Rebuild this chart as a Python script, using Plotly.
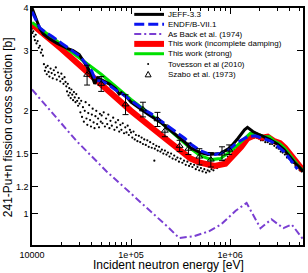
import plotly.graph_objects as go
import numpy as np

# ---------------- data (energy in eV, cross section in b) ----------------
jeff_E = [1.0e4, 1.1e4, 1.2e4, 1.3e4, 1.5e4, 1.8e4, 2.0e4, 2.3e4, 2.6e4, 3.0e4, 3.3e4, 3.6e4,
          4.0e4, 4.3e4, 4.6e4, 5.0e4, 6.0e4, 7.0e4, 7.6e4, 8.0e4, 9.0e4, 1.0e5, 1.2e5, 1.5e5,
          2.0e5, 2.5e5, 3.0e5, 3.5e5, 4.0e5, 5.0e5, 6.0e5, 8.0e5, 1.0e6, 1.2e6, 1.4e6, 1.5e6,
          1.7e6, 2.0e6, 2.5e6, 3.0e6, 3.5e6, 4.0e6, 4.5e6, 5.0e6, 5.46e6]
jeff_s = [4.0, 3.70, 3.48, 3.36, 3.25, 3.15, 3.10, 3.04, 3.00, 2.92, 2.80, 2.70,
          2.55, 2.40, 2.50, 2.47, 2.40, 2.32, 2.24, 2.26, 2.20, 2.12, 2.04, 1.95,
          1.85, 1.76, 1.68, 1.62, 1.56, 1.51, 1.49, 1.50, 1.56, 1.66, 1.76, 1.79,
          1.74, 1.70, 1.65, 1.60, 1.54, 1.47, 1.41, 1.37, 1.33]

endf_E = [1.0e4, 1.2e4, 1.4e4, 1.6e4, 2.0e4, 2.5e4, 3.0e4, 3.5e4, 4.0e4, 4.4e4, 5.0e4, 6.0e4,
          7.0e4, 8.0e4, 1.0e5, 1.3e5, 1.6e5, 2.0e5, 2.5e5, 3.0e5, 3.5e5, 4.0e5, 5.0e5, 6.0e5,
          7.0e5, 8.0e5, 1.0e6, 1.2e6, 1.5e6, 1.8e6, 2.2e6, 2.6e6, 3.0e6, 3.5e6, 4.0e6, 4.5e6, 4.8e6]
endf_s = [3.90, 3.50, 3.38, 3.30, 3.15, 3.02, 2.90, 2.75, 2.62, 2.45, 2.45, 2.38,
          2.30, 2.25, 2.14, 2.03, 1.96, 1.87, 1.79, 1.72, 1.66, 1.60, 1.53, 1.50,
          1.49, 1.50, 1.55, 1.62, 1.68, 1.69, 1.66, 1.63, 1.58, 1.52, 1.45, 1.38, 1.35]

back_E = [1.0e4, 2.83e4, 5.67e4, 1.64e5, 2.43e5, 3.06e5, 4.36e5, 6.1e5, 8.1e5, 1.14e6,
          1.47e6, 2.03e6, 2.62e6, 3.46e6, 4.2e6, 5.5e6]
back_s = [2.31, 1.63, 1.33, 1.01, 0.907, 0.849, 0.86, 0.888, 0.93, 1.02,
          1.075, 0.907, 0.963, 0.907, 0.93, 0.84]

red_E = [1.0e4, 2.0e4, 5.0e4, 1.0e5, 2.0e5, 3.0e5, 4.0e5, 5.0e5, 7.0e5, 9.0e5, 1.1e6,
         1.3e6, 1.5e6, 1.8e6, 2.1e6, 2.4e6, 2.8e6, 3.2e6, 3.6e6, 4.0e6, 4.5e6, 5.0e6, 5.46e6]
red_s = [3.58, 3.03, 2.39, 2.00, 1.70, 1.54, 1.45, 1.41, 1.38, 1.40, 1.48,
         1.57, 1.66, 1.70, 1.67, 1.68, 1.63, 1.61, 1.56, 1.50, 1.43, 1.38, 1.34]

green_E = [1.0e4, 2.0e4, 5.0e4, 1.0e5, 2.0e5, 3.0e5, 4.0e5, 5.0e5, 6.5e5, 8.0e5, 1.0e6,
           1.2e6, 1.4e6, 1.6e6, 1.9e6, 2.2e6, 2.5e6, 2.8e6, 3.2e6, 3.6e6, 4.0e6, 4.5e6, 5.0e6, 5.46e6]
green_s = [3.63, 3.13, 2.56, 2.16, 1.85, 1.67, 1.55, 1.48, 1.44, 1.45, 1.52,
           1.59, 1.66, 1.72, 1.71, 1.68, 1.68, 1.63, 1.60, 1.55, 1.49, 1.42, 1.37, 1.34]

tov_E = [1.00e4, 1.01e4, 1.03e4, 1.05e4, 1.07e4, 1.09e4, 1.11e4, 1.14e4, 1.17e4, 1.20e4, 1.23e4, 1.26e4, 1.29e4,
         1.32e4, 1.35e4, 1.38e4, 1.41e4, 1.44e4, 1.47e4, 1.50e4, 1.54e4, 1.58e4, 1.62e4, 1.66e4, 1.70e4,
         1.74e4, 1.78e4, 1.83e4, 1.88e4, 1.93e4, 1.98e4, 2.03e4, 2.08e4, 2.13e4, 2.18e4,
         2.22e4, 2.26e4, 2.30e4, 2.34e4, 2.38e4, 2.42e4, 2.46e4, 2.50e4, 2.55e4, 2.60e4, 2.65e4, 2.70e4,
         2.75e4, 2.80e4, 2.86e4, 2.92e4, 2.97e4,
         3.02e4, 3.08e4, 3.14e4, 3.20e4, 3.27e4, 3.34e4, 3.41e4, 3.48e4, 3.55e4, 3.62e4, 3.70e4, 3.78e4,
         3.86e4, 3.94e4, 4.02e4, 4.10e4, 4.19e4, 4.28e4, 4.37e4, 4.46e4, 4.55e4, 4.65e4, 4.75e4, 4.85e4, 4.95e4,
         5.05e4, 5.15e4, 5.30e4, 5.45e4, 5.60e4, 5.75e4, 5.90e4, 6.05e4, 6.20e4, 6.40e4, 6.60e4, 6.80e4,
         7.00e4, 7.20e4, 7.40e4, 7.60e4, 7.80e4, 8.00e4, 8.25e4, 8.50e4, 8.75e4, 9.00e4, 9.25e4, 9.50e4, 9.75e4,
         1.00e5, 1.03e5, 1.06e5, 1.09e5, 1.12e5, 1.16e5, 1.20e5, 1.24e5, 1.28e5, 1.32e5, 1.36e5, 1.41e5,
         1.46e5, 1.51e5, 1.56e5, 1.62e5, 1.68e5, 1.72e5, 1.74e5, 1.80e5, 1.86e5, 1.92e5, 1.98e5,
         2.05e5, 2.12e5, 2.20e5, 2.28e5, 2.36e5, 2.45e5, 2.54e5, 2.63e5, 2.73e5, 2.83e5, 2.94e5, 3.05e5,
         3.17e5, 3.30e5, 3.43e5, 3.57e5, 3.71e5, 3.86e5, 4.01e5, 4.17e5, 4.34e5, 4.51e5, 4.69e5, 4.88e5,
         5.08e5, 5.28e5, 5.50e5, 5.72e5, 5.95e5,
         6.2e5, 6.5e5, 6.8e5, 7.1e5, 7.4e5, 7.8e5, 8.2e5, 8.6e5, 9.0e5, 9.5e5, 1.0e6, 1.05e6, 1.10e6,
         1.16e6, 1.22e6, 1.28e6, 1.35e6, 1.42e6, 1.50e6,
         1.58e6, 1.66e6, 1.75e6, 1.85e6, 1.95e6, 2.05e6, 2.15e6, 2.27e6, 2.40e6, 2.53e6, 2.66e6, 2.80e6,
         2.95e6, 3.10e6, 3.25e6, 3.40e6, 3.58e6, 3.76e6, 3.95e6, 4.15e6, 4.36e6, 4.58e6, 4.80e6, 5.05e6, 5.30e6]
tov_s = [3.48, 3.38, 3.42, 3.30, 3.22, 3.34, 3.15, 3.20, 3.06, 3.10, 2.96, 3.02, 2.90,
         2.74, 2.62, 2.68, 2.56, 2.71, 2.60, 2.52, 2.66, 2.58, 2.49, 2.63, 2.55,
         2.68, 2.47, 2.59, 2.52, 2.44, 2.57, 2.48, 2.40, 2.51, 2.43,
         2.36, 2.28, 2.40, 2.22, 2.33, 2.26, 2.18, 2.31, 2.23, 2.15, 2.27, 2.19,
         2.12, 2.24, 2.14, 2.07, 2.18,
         2.10, 1.98, 2.14, 1.92, 2.05, 1.86, 2.00, 2.12, 1.90, 1.82, 1.97, 2.08,
         1.88, 1.80, 1.95, 2.03, 1.85, 1.78, 1.93, 2.00, 1.83, 1.90, 1.79, 1.96, 1.86,
         1.94, 1.84, 1.98, 1.80, 1.90, 1.83, 1.95, 1.78, 1.87, 1.81, 1.91, 1.76,
         1.85, 1.79, 1.88, 1.74, 1.82, 1.76, 1.84, 1.72, 1.79, 1.73, 1.81, 1.70, 1.76,
         1.73, 1.67, 1.74, 1.65, 1.70, 1.63, 1.69, 1.62, 1.67, 1.60, 1.65, 1.59,
         1.64, 1.57, 1.62, 1.56, 1.60, 1.43, 1.55, 1.58, 1.53, 1.57, 1.52,
         1.54, 1.50, 1.53, 1.49, 1.51, 1.47, 1.50, 1.45, 1.48, 1.44, 1.46, 1.42,
         1.45, 1.41, 1.43, 1.39, 1.42, 1.38, 1.40, 1.37, 1.39, 1.35, 1.37, 1.34,
         1.36, 1.33, 1.35, 1.32, 1.34,
         1.33, 1.35, 1.34, 1.37, 1.36, 1.39, 1.40, 1.43, 1.44, 1.47, 1.49, 1.52, 1.54,
         1.57, 1.59, 1.61, 1.63, 1.64, 1.66,
         1.68, 1.69, 1.67, 1.67, 1.66, 1.64, 1.64, 1.62, 1.62, 1.60, 1.60, 1.58,
         1.56, 1.55, 1.52, 1.51, 1.49, 1.46, 1.45, 1.42, 1.41, 1.38, 1.37, 1.34, 1.33]

szabo_E = [3.6e4, 5.0e4, 8.8e4, 1.32e5, 1.85e5, 2.2e5, 3.1e5, 3.8e5, 4.9e5, 6.4e5, 8.3e5, 9.8e5]
szabo_s = [2.55, 2.40, 2.09, 2.02, 1.89, 1.75, 1.58, 1.55, 1.47, 1.44, 1.50, 1.54]
szabo_err = [0.17, 0.12, 0.14, 0.10, 0.09, 0.07, 0.06, 0.06, 0.08, 0.07, 0.07, 0.05]

x_tickvals = [1e4, 1e5, 1e6]
x_ticktext = ["10000", "1e+05", "1e+06"]
x_minor = [2e4, 3e4, 4e4, 5e4, 6e4, 7e4, 8e4, 9e4,
           2e5, 3e5, 4e5, 5e5, 6e5, 7e5, 8e5, 9e5,
           2e6, 3e6, 4e6, 5e6]
y_tickvals = [1, 1.2, 1.5, 2, 3, 4]
y_ticktext = ["1", "1.2", "1.5", "2", "3", "4"]

legend_names = ["JEFF-3.3", "ENDF/B-VII.1", "As Back et al. (1974)",
                "This work (incomplete damping)", "This work (strong)",
                "Tovesson et al (2010)", "Szabo et al. (1973)"]

# ---------------- styles ----------------
C_JEFF = "black"
C_ENDF = "#0a14f0"
C_BACK = "#7a3fd2"
C_RED = "#ff0000"
C_GREEN = "#00e000"
FONT = "Liberation Sans, Arial, Helvetica, sans-serif"

fig = go.Figure()
fig.add_trace(go.Scatter(x=back_E, y=back_s, mode="lines",
                         line=dict(color=C_BACK, width=2, dash="7px,3px,2px,3px")))
fig.add_trace(go.Scatter(x=tov_E, y=tov_s, mode="markers",
                         marker=dict(color="black", size=2.2)))
fig.add_trace(go.Scatter(x=red_E, y=red_s, mode="lines", line=dict(color=C_RED, width=6)))
fig.add_trace(go.Scatter(x=green_E, y=green_s, mode="lines", line=dict(color=C_GREEN, width=3)))
fig.add_trace(go.Scatter(x=jeff_E, y=jeff_s, mode="lines", line=dict(color=C_JEFF, width=3)))
fig.add_trace(go.Scatter(x=endf_E, y=endf_s, mode="lines",
                         line=dict(color=C_ENDF, width=3, dash="10px,4px")))
fig.add_trace(go.Scatter(x=szabo_E, y=szabo_s, mode="markers",
                         marker=dict(symbol="triangle-up-open", color="black", size=6,
                                     line=dict(width=1, color="black")),
                         error_y=dict(type="data", array=szabo_err, visible=True,
                                      color="black", thickness=1, width=3)))

W, H = 308, 273
L, R, T, B = 32, 3, 4, 28
PW, PH = W - L - R, H - T - B

def px(xp):
    return (xp - L) / PW

def py(yp):
    return (H - B - yp) / PH

fig.update_layout(
    width=W, height=H, margin=dict(l=L, r=R, t=T, b=B),
    paper_bgcolor="white", plot_bgcolor="white", showlegend=False,
    font=dict(family=FONT, size=9, color="black"),
)
axis_common = dict(type="log", showgrid=False, zeroline=False, showline=True,
                   linecolor="black", linewidth=1.5, mirror="ticks",
                   ticks="inside", tickcolor="black", tickwidth=1, ticklen=6,
                   tickfont=dict(family=FONT, size=9, color="black"))
fig.update_xaxes(**axis_common, range=[4, 6.737], tickvals=x_tickvals, ticktext=x_ticktext,
                 minor=dict(tickmode="array", tickvals=x_minor, ticks="inside", ticklen=3.5,
                            tickcolor="black", tickwidth=1, showgrid=False))
fig.update_yaxes(**axis_common, range=[np.log10(0.81), np.log10(4.0)],
                 tickvals=y_tickvals, ticktext=y_ticktext)

# axis titles
fig.add_annotation(text="Incident neutron energy [eV]", xref="paper", yref="paper",
                   x=px(170), y=py(265), xanchor="center", yanchor="middle", showarrow=False,
                   font=dict(family=FONT, size=12, color="black"))
fig.add_annotation(text="241-Pu+n fission cross section [b]", xref="paper", yref="paper",
                   x=px(8), y=py(125), xanchor="center", yanchor="middle", showarrow=False,
                   textangle=-90, font=dict(family=FONT, size=12, color="black"))

# manual legend
rows = [10.5, 20.5, 30.5, 40.5, 50.5, 61, 71.5]
line_styles = [dict(color=C_JEFF, width=3), dict(color=C_ENDF, width=3, dash="10px,4px"),
               dict(color=C_BACK, width=2, dash="7px,3px,2px,3px"), dict(color=C_RED, width=6),
               dict(color=C_GREEN, width=3)]
for i, st in enumerate(line_styles):
    fig.add_shape(type="line", xref="paper", yref="paper", x0=px(135), x1=px(165),
                  y0=py(rows[i]), y1=py(rows[i]), line=st)
fig.add_shape(type="circle", xref="paper", yref="paper", x0=px(148), x1=px(150),
              y0=py(rows[5] - 1), y1=py(rows[5] + 1), fillcolor="black", line=dict(width=0))
ty = rows[6]
fig.add_shape(type="path", xref="paper", yref="paper",
              path=f"M {px(146)},{py(ty + 2.5)} L {px(152)},{py(ty + 2.5)} L {px(149)},{py(ty - 3)} Z",
              line=dict(color="black", width=1))
for i, name in enumerate(legend_names):
    fig.add_annotation(text=name, xref="paper", yref="paper", x=px(167), y=py(rows[i]),
                       xanchor="left", yanchor="middle", showarrow=False,
                       font=dict(family=FONT, size=8, color="black"))

fig.write_html("out.html", config={"displayModeBar": False},
               post_script="document.body.style.margin='0px';document.body.style.overflow='hidden';")
